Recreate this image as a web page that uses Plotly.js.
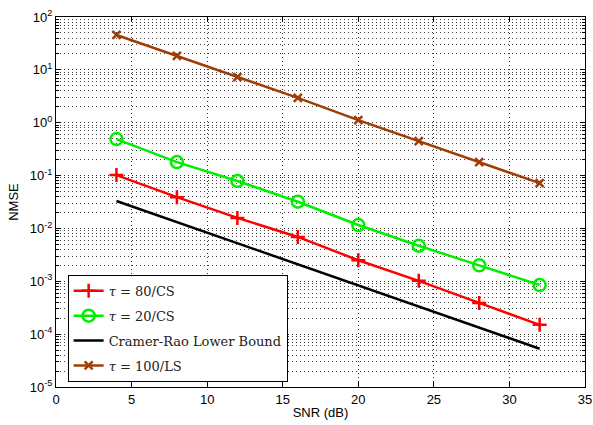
<!DOCTYPE html>
<html>
<head>
<meta charset="utf-8">
<script src="https://cdn.plot.ly/plotly-3.0.1.min.js"></script>
<style>html,body{margin:0;padding:0;background:#fff;}#chart{width:593px;height:425px;}</style>
</head>
<body>
<div id="chart"></div>
<script>
// SNR values (dB)
const snr = [4, 8, 12, 16, 20, 24, 28, 32];
// NMSE series
const nmseTau80CS  = [0.102, 0.039, 0.0158, 0.0069, 0.0025, 0.00102, 0.00039, 0.000150];
const nmseTau20CS  = [0.49, 0.18, 0.079, 0.032, 0.0116, 0.0047, 0.0020, 0.00085];
const nmseCRLB     = [0.033, 0.0132, 0.0053, 0.0021, 0.00083, 0.00033, 0.000132, 0.000053];
const nmseTau100LS = [45.7, 18.3, 7.3, 2.95, 1.12, 0.45, 0.18, 0.072];
// Names and ticks
const names = ['<i>τ</i> = 80/CS', '<i>τ</i> = 20/CS', 'Cramer-Rao Lower Bound', '<i>τ</i> = 100/LS'];
const yTickVals = [1e-5, 1e-4, 1e-3, 1e-2, 1e-1, 1, 10, 100];
const yTickText = ['10<sup>-5</sup>', '10<sup>-4</sup>', '10<sup>-3</sup>', '10<sup>-2</sup>', '10<sup>-1</sup>', '10<sup>0</sup>', '10<sup>1</sup>', '10<sup>2</sup>'];

const traces = [
  {x: snr, y: nmseTau80CS, name: names[0], legendgroup: 'a', mode: 'lines+markers',
   line: {color: '#ff0000', width: 2.5},
   marker: {symbol: 'cross-thin', size: 10, color: '#ff0000', line: {color: '#ff0000', width: 2.5}}},
  {x: snr, y: nmseTau20CS, name: names[1], legendgroup: 'b', mode: 'lines+markers',
   line: {color: '#00ee00', width: 2.5},
   marker: {symbol: 'circle-open', size: 12, color: '#00ee00', line: {color: '#00ee00', width: 2.5}}},
  {x: snr, y: nmseCRLB, name: names[2], legendgroup: 'c', mode: 'lines',
   line: {color: '#000000', width: 2.5}},
  {x: snr, y: nmseTau100LS, name: names[3], legendgroup: 'd', mode: 'lines+markers',
   line: {color: '#a03c06', width: 2.5},
   marker: {symbol: 'x-thin', size: 8, color: '#a03c06', line: {color: '#a03c06', width: 2.5}}}
];

const gridDash = '1px,3px';
const layout = {
  width: 593, height: 425,
  margin: {l: 56, r: 8, t: 17, b: 38},
  paper_bgcolor: '#fff', plot_bgcolor: '#fff',
  font: {family: 'Liberation Sans, Arial, sans-serif', size: 13, color: '#000'},
  showlegend: true,
  legend: {
    x: 0.022, y: 0.014, xanchor: 'left', yanchor: 'bottom',
    bgcolor: '#fff', bordercolor: '#000', borderwidth: 1,
    font: {family: 'DejaVu Serif, Liberation Serif, serif', size: 13, color: '#222'},
    traceorder: 'grouped', tracegroupgap: 5
  },
  xaxis: {
    title: {text: 'SNR (dB)', font: {size: 13}, standoff: 2},
    range: [0, 35], dtick: 5, tick0: 0,
    showline: true, linecolor: '#000', linewidth: 1, mirror: 'ticks',
    ticks: 'inside', ticklen: 5, tickcolor: '#000',
    showgrid: true, gridcolor: '#333', griddash: gridDash, gridwidth: 1,
    zeroline: false, tickfont: {size: 13}
  },
  yaxis: {
    title: {text: 'NMSE', font: {size: 13}, standoff: 8},
    type: 'log', range: [-5, 2],
    tickvals: yTickVals, ticktext: yTickText,
    showline: true, linecolor: '#000', linewidth: 1, mirror: 'ticks',
    ticks: 'inside', ticklen: 5, tickcolor: '#000',
    showgrid: true, gridcolor: '#333', griddash: gridDash, gridwidth: 1,
    minor: {dtick: 'D1', ticks: 'inside', ticklen: 3, tickcolor: '#000', showgrid: true, gridcolor: '#444', griddash: gridDash, gridwidth: 1},
    zeroline: false, tickfont: {size: 13}
  }
};

Plotly.newPlot('chart', traces, layout, {displayModeBar: false, staticPlot: true});
</script>
</body>
</html>
